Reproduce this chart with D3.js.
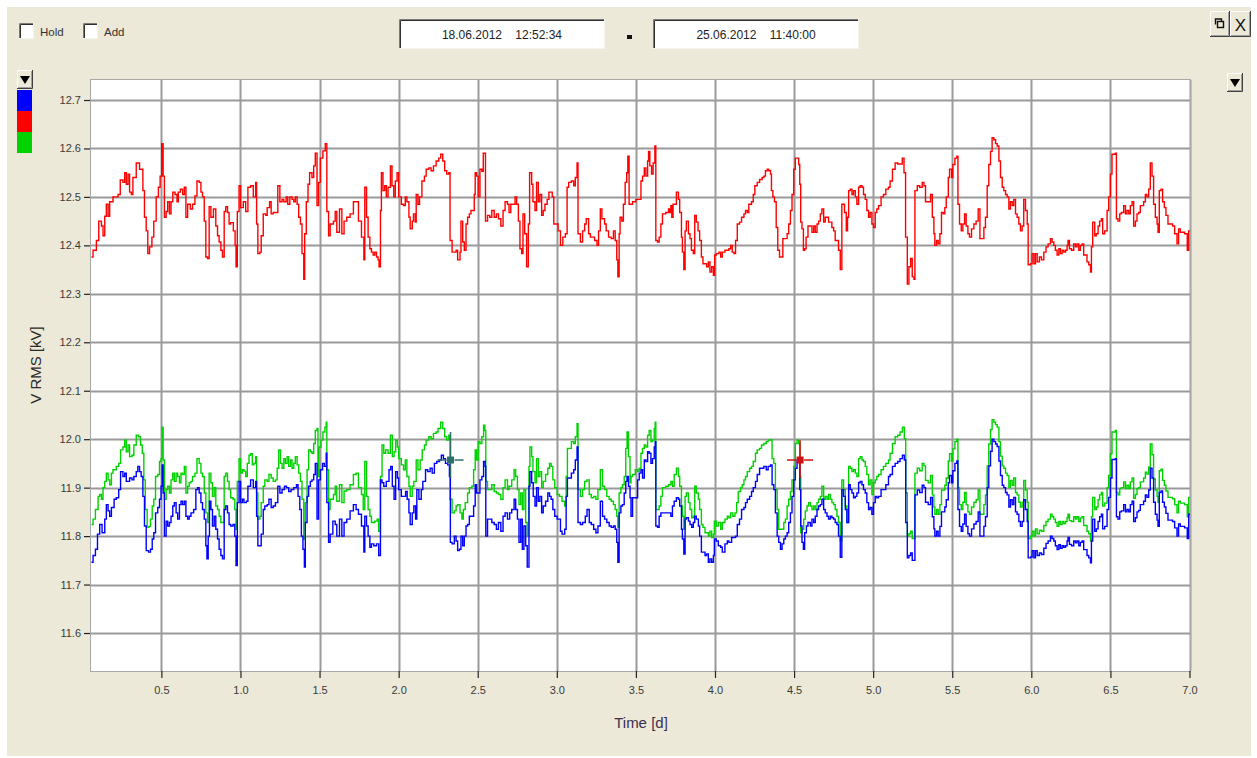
<!DOCTYPE html>
<html>
<head>
<meta charset="utf-8">
<script src="https://cdn.jsdelivr.net/npm/d3@7/dist/d3.min.js"></script>
<style>
  html, body { margin: 0; padding: 0; background: #ffffff; }
  svg { display: block; font-family: "Liberation Sans", Arial, sans-serif; }
</style>
</head>
<body>
<svg id="chart" width="1257" height="758"></svg>
<script>
// Measured RMS voltage per phase, [time in days, kV]
const phaseL1 = [ // blue
[0.058,11.746],[0.068,11.76],[0.083,11.773],[0.096,11.804],[0.110,11.824],[0.125,11.807],[0.142,11.835],[0.152,11.865],[0.163,11.852],[0.173,11.841],[0.184,11.859],[0.201,11.876],[0.215,11.879],[0.230,11.896],[0.242,11.933],[0.257,11.923],[0.268,11.93],[0.278,11.913],[0.299,11.92],[0.314,11.916],[0.326,11.923],[0.341,11.933],[0.351,11.944],[0.362,11.933],[0.372,11.923],[0.383,11.882],[0.393,11.821],[0.404,11.77],[0.419,11.767],[0.431,11.773],[0.442,11.794],[0.452,11.807],[0.463,11.848],[0.477,11.859],[0.488,11.876],[0.498,11.903],[0.505,11.947],[0.511,11.889],[0.519,11.80],[0.530,11.831],[0.540,11.821],[0.551,11.828],[0.561,11.841],[0.572,11.862],[0.582,11.869],[0.593,11.848],[0.603,11.835],[0.614,11.865],[0.624,11.872],[0.634,11.865],[0.645,11.872],[0.655,11.841],[0.666,11.835],[0.676,11.841],[0.687,11.848],[0.704,11.855],[0.718,11.896],[0.729,11.90],[0.739,11.889],[0.750,11.869],[0.760,11.855],[0.771,11.835],[0.781,11.78],[0.788,11.753],[0.796,11.80],[0.804,11.872],[0.813,11.855],[0.823,11.821],[0.834,11.841],[0.844,11.814],[0.855,11.794],[0.865,11.773],[0.876,11.76],[0.886,11.753],[0.897,11.855],[0.907,11.862],[0.918,11.848],[0.928,11.824],[0.938,11.821],[0.953,11.824],[0.964,11.80],[0.972,11.739],[0.980,11.869],[0.991,11.913],[1.001,11.869],[1.012,11.876],[1.022,11.869],[1.037,11.872],[1.047,11.903],[1.064,11.916],[1.081,11.90],[1.096,11.913],[1.102,11.841],[1.110,11.78],[1.123,11.78],[1.131,11.804],[1.144,11.855],[1.154,11.862],[1.169,11.865],[1.180,11.876],[1.194,11.859],[1.207,11.862],[1.221,11.869],[1.236,11.903],[1.249,11.889],[1.263,11.896],[1.278,11.903],[1.291,11.90],[1.305,11.892],[1.320,11.896],[1.337,11.90],[1.354,11.906],[1.364,11.882],[1.375,11.855],[1.385,11.80],[1.395,11.773],[1.404,11.736],[1.410,11.828],[1.421,11.882],[1.431,11.903],[1.442,11.913],[1.452,11.916],[1.463,11.927],[1.473,11.95],[1.484,11.835],[1.494,11.916],[1.505,11.937],[1.519,11.95],[1.530,11.944],[1.542,11.971],[1.546,11.869],[1.557,11.787],[1.567,11.804],[1.584,11.831],[1.599,11.824],[1.609,11.80],[1.626,11.835],[1.641,11.80],[1.655,11.828],[1.672,11.835],[1.693,11.852],[1.714,11.865],[1.731,11.855],[1.746,11.845],[1.765,11.821],[1.780,11.767],[1.786,11.841],[1.797,11.821],[1.807,11.80],[1.818,11.777],[1.828,11.784],[1.843,11.78],[1.860,11.784],[1.874,11.76],[1.885,11.916],[1.895,11.91],[1.906,11.903],[1.922,11.913],[1.939,11.937],[1.950,11.944],[1.960,11.903],[1.971,11.876],[1.981,11.933],[1.992,11.92],[2.000,11.896],[2.017,11.882],[2.044,11.892],[2.054,11.876],[2.065,11.848],[2.073,11.824],[2.086,11.848],[2.096,11.862],[2.107,11.835],[2.115,11.896],[2.128,11.876],[2.143,11.896],[2.153,11.913],[2.170,11.937],[2.184,11.933],[2.199,11.94],[2.212,11.93],[2.226,11.95],[2.241,11.954],[2.258,11.957],[2.270,11.967],[2.283,11.96],[2.296,11.95],[2.310,11.947],[2.321,11.923],[2.327,11.787],[2.338,11.784],[2.352,11.80],[2.363,11.79],[2.373,11.77],[2.384,11.773],[2.394,11.80],[2.405,11.78],[2.415,11.80],[2.426,11.821],[2.436,11.824],[2.447,11.841],[2.463,11.841],[2.474,11.862],[2.484,11.906],[2.493,11.889],[2.514,11.916],[2.526,11.923],[2.537,11.954],[2.547,11.944],[2.551,11.80],[2.562,11.835],[2.589,11.828],[2.604,11.824],[2.618,11.814],[2.631,11.828],[2.646,11.81],[2.660,11.841],[2.673,11.848],[2.688,11.835],[2.702,11.848],[2.715,11.855],[2.730,11.876],[2.740,11.855],[2.751,11.835],[2.761,11.787],[2.772,11.835],[2.782,11.773],[2.792,11.821],[2.803,11.78],[2.813,11.736],[2.824,11.903],[2.830,11.933],[2.841,11.91],[2.851,11.882],[2.862,11.862],[2.872,11.90],[2.883,11.872],[2.893,11.882],[2.904,11.848],[2.914,11.862],[2.929,11.872],[2.943,11.889],[2.954,11.882],[2.964,11.876],[2.975,11.855],[2.987,11.841],[3.002,11.835],[3.023,11.81],[3.033,11.804],[3.050,11.814],[3.059,11.882],[3.067,11.92],[3.092,11.93],[3.107,11.937],[3.117,11.957],[3.128,11.984],[3.134,11.828],[3.149,11.824],[3.163,11.828],[3.180,11.841],[3.191,11.855],[3.205,11.828],[3.218,11.824],[3.233,11.814],[3.247,11.807],[3.260,11.821],[3.275,11.872],[3.289,11.841],[3.302,11.835],[3.316,11.828],[3.331,11.821],[3.344,11.818],[3.358,11.821],[3.369,11.814],[3.379,11.787],[3.386,11.746],[3.394,11.848],[3.405,11.862],[3.415,11.865],[3.426,11.889],[3.436,11.913],[3.444,11.923],[3.453,11.903],[3.463,11.879],[3.469,11.841],[3.479,11.879],[3.496,11.879],[3.511,11.916],[3.521,11.93],[3.532,11.937],[3.542,11.92],[3.553,11.957],[3.563,11.954],[3.574,11.974],[3.584,11.971],[3.595,11.95],[3.605,11.96],[3.616,11.984],[3.622,11.995],[3.626,11.821],[3.637,11.818],[3.647,11.841],[3.658,11.848],[3.721,11.841],[3.731,11.862],[3.742,11.872],[3.756,11.879],[3.769,11.876],[3.777,11.862],[3.788,11.814],[3.794,11.794],[3.803,11.763],[3.811,11.835],[3.819,11.838],[3.832,11.831],[3.842,11.824],[3.853,11.818],[3.863,11.828],[3.872,11.841],[3.882,11.835],[3.895,11.821],[3.903,11.80],[3.914,11.767],[3.937,11.76],[3.947,11.763],[3.958,11.746],[3.968,11.753],[3.979,11.746],[3.990,11.76],[3.996,11.794],[4.008,11.79],[4.021,11.78],[4.036,11.777],[4.046,11.767],[4.063,11.784],[4.078,11.79],[4.088,11.787],[4.105,11.797],[4.130,11.80],[4.141,11.824],[4.155,11.835],[4.168,11.855],[4.183,11.859],[4.193,11.869],[4.204,11.876],[4.219,11.882],[4.231,11.892],[4.242,11.90],[4.256,11.913],[4.267,11.927],[4.282,11.94],[4.309,11.944],[4.324,11.937],[4.336,11.944],[4.351,11.947],[4.361,11.906],[4.372,11.896],[4.382,11.848],[4.393,11.80],[4.403,11.787],[4.414,11.773],[4.424,11.784],[4.435,11.794],[4.445,11.80],[4.456,11.807],[4.466,11.828],[4.477,11.848],[4.487,11.882],[4.498,11.916],[4.508,11.94],[4.519,11.957],[4.529,11.957],[4.536,11.896],[4.542,11.821],[4.550,11.787],[4.559,11.773],[4.567,11.807],[4.578,11.821],[4.588,11.828],[4.603,11.821],[4.613,11.835],[4.624,11.828],[4.634,11.841],[4.645,11.855],[4.655,11.862],[4.666,11.865],[4.676,11.876],[4.687,11.855],[4.697,11.848],[4.708,11.841],[4.718,11.835],[4.729,11.841],[4.739,11.838],[4.750,11.835],[4.760,11.828],[4.771,11.824],[4.781,11.80],[4.792,11.756],[4.802,11.896],[4.813,11.882],[4.824,11.855],[4.834,11.828],[4.845,11.906],[4.855,11.896],[4.866,11.889],[4.876,11.879],[4.887,11.882],[4.897,11.889],[4.908,11.91],[4.918,11.913],[4.929,11.906],[4.939,11.896],[4.950,11.889],[4.960,11.869],[4.971,11.855],[4.981,11.859],[4.992,11.845],[5.002,11.869],[5.013,11.882],[5.023,11.879],[5.034,11.882],[5.050,11.896],[5.080,11.906],[5.097,11.923],[5.107,11.927],[5.122,11.944],[5.139,11.95],[5.155,11.954],[5.170,11.96],[5.185,11.967],[5.197,11.957],[5.206,11.828],
[5.216,11.755],[5.226,11.76],[5.237,11.765],[5.247,11.75],[5.258,11.75],[5.264,11.885],[5.279,11.895],[5.294,11.89],[5.310,11.905],[5.321,11.90],[5.331,11.87],[5.348,11.865],[5.363,11.88],[5.374,11.84],[5.384,11.815],[5.390,11.80],[5.401,11.81],[5.411,11.80],[5.422,11.82],[5.432,11.85],[5.443,11.85],[5.453,11.86],[5.462,11.875],[5.475,11.91],[5.483,11.925],[5.496,11.91],[5.504,11.935],[5.517,11.95],[5.529,11.955],[5.536,11.855],[5.546,11.82],[5.557,11.81],[5.567,11.825],[5.578,11.845],[5.588,11.82],[5.599,11.805],[5.609,11.80],[5.622,11.815],[5.637,11.825],[5.651,11.83],[5.664,11.85],[5.675,11.80],[5.685,11.80],[5.700,11.82],[5.710,11.84],[5.721,11.90],[5.731,11.945],[5.742,11.975],[5.752,12.00],[5.763,11.995],[5.774,11.99],[5.784,11.985],[5.795,11.955],[5.805,11.925],[5.816,11.905],[5.826,11.90],[5.837,11.89],[5.847,11.885],[5.858,11.86],[5.868,11.875],[5.879,11.865],[5.889,11.88],[5.900,11.85],[5.910,11.845],[5.921,11.83],[5.931,11.82],[5.942,11.83],[5.952,11.875],[5.963,11.855],[5.974,11.83],[5.980,11.755],[5.995,11.757],[6.005,11.77],[6.016,11.755],[6.026,11.77],[6.037,11.76],[6.051,11.765],[6.064,11.762],[6.079,11.775],[6.093,11.785],[6.106,11.79],[6.121,11.80],[6.131,11.795],[6.142,11.79],[6.152,11.78],[6.163,11.772],[6.174,11.782],[6.184,11.775],[6.195,11.78],[6.205,11.777],[6.216,11.78],[6.226,11.79],[6.232,11.797],[6.241,11.783],[6.254,11.78],[6.268,11.79],[6.279,11.786],[6.289,11.79],[6.300,11.78],[6.310,11.787],[6.321,11.79],[6.331,11.772],[6.352,11.76],[6.363,11.755],[6.374,11.745],[6.380,11.79],[6.388,11.835],[6.401,11.81],[6.411,11.815],[6.422,11.83],[6.432,11.84],[6.443,11.845],[6.451,11.815],[6.464,11.82],[6.479,11.855],[6.489,11.88],[6.500,11.92],[6.510,11.958],[6.531,11.96],[6.538,11.84],[6.548,11.835],[6.559,11.85],[6.569,11.852],[6.584,11.865],[6.595,11.85],[6.605,11.855],[6.616,11.85],[6.626,11.865],[6.637,11.872],[6.647,11.83],[6.658,11.838],[6.668,11.85],[6.679,11.853],[6.689,11.865],[6.710,11.872],[6.721,11.885],[6.731,11.88],[6.742,11.895],[6.752,11.94],[6.763,11.92],[6.773,11.87],[6.784,11.845],[6.795,11.833],[6.801,11.82],[6.809,11.89],[6.820,11.893],[6.830,11.87],[6.841,11.86],[6.851,11.847],[6.864,11.833],[6.893,11.83],[6.906,11.817],[6.921,11.80],[6.931,11.825],[6.942,11.82],[6.969,11.817],[6.986,11.795],[6.995,11.845],[7.005,11.845]
];

const phaseL2 = [ // red
[0.058,12.376],[0.068,12.39],[0.089,12.41],[0.104,12.45],[0.121,12.44],[0.131,12.42],[0.142,12.46],[0.152,12.485],[0.163,12.46],[0.173,12.49],[0.194,12.50],[0.226,12.505],[0.240,12.535],[0.257,12.53],[0.268,12.55],[0.278,12.526],[0.289,12.547],[0.299,12.51],[0.310,12.505],[0.320,12.54],[0.341,12.57],[0.362,12.557],[0.383,12.513],[0.393,12.458],[0.404,12.43],[0.414,12.383],[0.425,12.397],[0.440,12.417],[0.452,12.45],[0.467,12.50],[0.481,12.52],[0.492,12.543],[0.502,12.61],[0.511,12.543],[0.519,12.458],[0.530,12.47],[0.540,12.49],[0.551,12.465],[0.561,12.49],[0.572,12.51],[0.586,12.505],[0.599,12.49],[0.607,12.51],[0.620,12.516],[0.634,12.505],[0.645,12.52],[0.655,12.458],[0.666,12.485],[0.683,12.475],[0.697,12.485],[0.712,12.502],[0.725,12.533],[0.739,12.53],[0.750,12.51],[0.760,12.50],[0.771,12.45],[0.781,12.376],[0.792,12.373],[0.802,12.48],[0.813,12.458],[0.829,12.475],[0.844,12.44],[0.855,12.42],[0.865,12.407],[0.876,12.39],[0.886,12.376],[0.897,12.47],[0.907,12.48],[0.918,12.468],[0.928,12.444],[0.938,12.447],[0.955,12.43],[0.966,12.40],[0.972,12.356],[0.980,12.47],[0.991,12.523],[1.001,12.478],[1.018,12.49],[1.033,12.47],[1.047,12.52],[1.064,12.523],[1.081,12.50],[1.096,12.53],[1.102,12.444],[1.110,12.383],[1.123,12.386],[1.131,12.42],[1.144,12.465],[1.159,12.462],[1.169,12.478],[1.184,12.49],[1.194,12.465],[1.207,12.468],[1.236,12.523],[1.249,12.49],[1.263,12.495],[1.274,12.49],[1.289,12.50],[1.299,12.485],[1.312,12.50],[1.326,12.495],[1.337,12.49],[1.347,12.50],[1.358,12.485],[1.368,12.458],[1.379,12.444],[1.389,12.383],[1.400,12.33],[1.406,12.424],[1.416,12.49],[1.427,12.526],[1.437,12.55],[1.452,12.54],[1.463,12.564],[1.473,12.59],[1.484,12.482],[1.494,12.53],[1.505,12.58],[1.521,12.595],[1.536,12.61],[1.546,12.47],[1.557,12.42],[1.567,12.444],[1.588,12.45],[1.599,12.47],[1.609,12.427],[1.626,12.475],[1.641,12.424],[1.655,12.45],[1.672,12.458],[1.693,12.465],[1.714,12.49],[1.731,12.49],[1.746,12.45],[1.765,12.417],[1.780,12.37],[1.786,12.52],[1.797,12.458],[1.807,12.417],[1.818,12.393],[1.828,12.386],[1.839,12.38],[1.849,12.386],[1.860,12.376],[1.870,12.37],[1.876,12.356],[1.885,12.472],[1.891,12.55],[1.901,12.513],[1.912,12.523],[1.922,12.50],[1.933,12.52],[1.948,12.564],[1.958,12.523],[1.969,12.50],[1.979,12.533],[1.990,12.55],[2.000,12.50],[2.017,12.485],[2.031,12.482],[2.042,12.50],[2.052,12.49],[2.065,12.458],[2.073,12.434],[2.086,12.45],[2.094,12.465],[2.105,12.448],[2.111,12.505],[2.122,12.485],[2.132,12.50],[2.147,12.533],[2.163,12.543],[2.174,12.557],[2.191,12.56],[2.205,12.554],[2.220,12.564],[2.237,12.574],[2.254,12.58],[2.266,12.588],[2.279,12.574],[2.291,12.554],[2.304,12.547],[2.317,12.55],[2.325,12.41],[2.338,12.386],[2.352,12.386],[2.363,12.39],[2.373,12.37],[2.388,12.386],[2.394,12.45],[2.405,12.407],[2.415,12.39],[2.426,12.444],[2.436,12.458],[2.447,12.465],[2.457,12.472],[2.478,12.505],[2.484,12.55],[2.493,12.543],[2.503,12.50],[2.514,12.557],[2.526,12.553],[2.535,12.59],[2.545,12.59],[2.549,12.45],[2.562,12.462],[2.576,12.458],[2.589,12.472],[2.604,12.458],[2.618,12.465],[2.631,12.455],[2.646,12.44],[2.660,12.472],[2.673,12.49],[2.688,12.485],[2.698,12.468],[2.709,12.485],[2.723,12.485],[2.736,12.50],[2.746,12.485],[2.757,12.45],[2.767,12.393],[2.778,12.383],[2.786,12.465],[2.797,12.424],[2.809,12.356],[2.820,12.444],[2.828,12.55],[2.841,12.526],[2.849,12.49],[2.862,12.472],[2.872,12.53],[2.883,12.49],[2.893,12.505],[2.904,12.462],[2.914,12.472],[2.925,12.485],[2.939,12.495],[2.950,12.51],[2.971,12.50],[2.981,12.444],[3.008,12.43],[3.023,12.40],[3.038,12.417],[3.054,12.424],[3.065,12.52],[3.075,12.53],[3.092,12.533],[3.107,12.523],[3.117,12.54],[3.128,12.57],[3.134,12.424],[3.149,12.407],[3.163,12.43],[3.176,12.444],[3.186,12.455],[3.201,12.424],[3.212,12.417],[3.239,12.41],[3.254,12.40],[3.264,12.43],[3.275,12.475],[3.285,12.455],[3.302,12.444],[3.312,12.43],[3.327,12.417],[3.344,12.414],[3.358,12.43],[3.369,12.41],[3.379,12.37],[3.386,12.335],[3.394,12.424],[3.400,12.458],[3.411,12.45],[3.421,12.485],[3.432,12.53],[3.442,12.55],[3.449,12.584],[3.457,12.485],[3.479,12.49],[3.500,12.495],[3.521,12.495],[3.532,12.533],[3.542,12.543],[3.553,12.56],[3.563,12.543],[3.574,12.574],[3.580,12.594],[3.588,12.564],[3.599,12.547],[3.609,12.57],[3.620,12.605],[3.626,12.41],[3.637,12.407],[3.647,12.417],[3.658,12.444],[3.668,12.465],[3.689,12.468],[3.706,12.475],[3.714,12.468],[3.721,12.482],[3.727,12.458],[3.735,12.485],[3.756,12.51],[3.769,12.495],[3.777,12.468],[3.788,12.417],[3.794,12.386],[3.803,12.35],[3.811,12.43],[3.819,12.45],[3.832,12.424],[3.842,12.414],[3.851,12.39],[3.863,12.383],[3.872,12.462],[3.882,12.448],[3.893,12.43],[3.903,12.41],[3.914,12.376],[3.924,12.362],[3.947,12.356],[3.958,12.366],[3.968,12.345],[3.979,12.356],[3.990,12.338],[3.998,12.38],[4.008,12.383],[4.025,12.386],[4.036,12.376],[4.046,12.386],[4.063,12.39],[4.088,12.393],[4.099,12.40],[4.109,12.386],[4.120,12.383],[4.130,12.41],[4.141,12.444],[4.155,12.448],[4.168,12.458],[4.183,12.465],[4.193,12.472],[4.204,12.468],[4.214,12.485],[4.231,12.49],[4.242,12.505],[4.252,12.523],[4.267,12.53],[4.282,12.536],[4.298,12.54],[4.309,12.543],[4.319,12.554],[4.330,12.557],[4.340,12.554],[4.351,12.547],[4.357,12.513],[4.366,12.50],[4.376,12.49],[4.387,12.437],[4.397,12.39],[4.408,12.376],[4.420,12.376],[4.429,12.414],[4.441,12.414],[4.456,12.424],[4.466,12.444],[4.477,12.472],[4.487,12.505],[4.498,12.557],[4.508,12.58],[4.519,12.58],[4.529,12.567],[4.536,12.526],[4.542,12.448],[4.550,12.434],[4.559,12.39],[4.567,12.393],[4.576,12.417],[4.588,12.44],[4.603,12.44],[4.613,12.427],[4.624,12.44],[4.634,12.427],[4.645,12.444],[4.655,12.45],[4.666,12.465],[4.676,12.475],[4.687,12.448],[4.697,12.458],[4.718,12.448],[4.739,12.437],[4.750,12.43],[4.760,12.41],[4.781,12.39],[4.792,12.35],[4.802,12.485],[4.819,12.468],[4.830,12.43],[4.838,12.458],[4.845,12.513],[4.855,12.516],[4.866,12.505],[4.876,12.513],[4.887,12.50],[4.897,12.485],[4.908,12.52],[4.918,12.523],[4.929,12.52],[4.939,12.505],[4.950,12.495],[4.960,12.472],[4.971,12.458],[4.981,12.468],[4.992,12.444],[5.002,12.437],[5.013,12.468],[5.023,12.475],[5.034,12.482],[5.050,12.50],[5.065,12.505],[5.080,12.516],[5.097,12.52],[5.107,12.533],[5.122,12.557],[5.139,12.57],[5.155,12.568],[5.184,12.58],[5.195,12.55],[5.205,12.417],[5.216,12.32],[5.226,12.356],[5.237,12.373],[5.247,12.335],[5.258,12.33],[5.264,12.513],[5.279,12.523],[5.294,12.52],[5.310,12.53],[5.321,12.523],[5.331,12.49],[5.348,12.49],[5.363,12.505],[5.374,12.458],[5.384,12.424],[5.390,12.40],[5.401,12.41],[5.411,12.403],[5.422,12.424],[5.432,12.468],[5.443,12.465],[5.453,12.478],[5.462,12.50],[5.475,12.54],[5.483,12.557],[5.496,12.54],[5.504,12.567],[5.517,12.58],[5.529,12.584],[5.536,12.485],[5.546,12.444],[5.557,12.43],[5.567,12.444],[5.578,12.465],[5.588,12.44],[5.599,12.424],[5.609,12.417],[5.622,12.434],[5.637,12.444],[5.651,12.45],[5.664,12.475],[5.675,12.414],[5.685,12.414],[5.700,12.437],[5.710,12.458],[5.721,12.523],[5.731,12.567],[5.742,12.594],[5.752,12.622],[5.763,12.618],[5.774,12.61],[5.784,12.605],[5.795,12.574],[5.805,12.54],[5.816,12.52],[5.826,12.513],[5.837,12.505],[5.847,12.50],[5.858,12.475],[5.868,12.49],[5.879,12.482],[5.889,12.495],[5.900,12.465],[5.910,12.458],[5.921,12.444],[5.931,12.43],[5.942,12.44],[5.952,12.495],[5.963,12.472],[5.974,12.444],[5.980,12.36],[5.995,12.362],[6.005,12.383],[6.016,12.362],[6.026,12.383],[6.037,12.366],[6.051,12.376],[6.064,12.37],[6.079,12.386],[6.093,12.397],[6.106,12.403],[6.121,12.414],[6.131,12.407],[6.142,12.40],[6.152,12.39],[6.163,12.38],[6.174,12.393],[6.184,12.383],[6.195,12.39],[6.205,12.386],[6.216,12.39],[6.226,12.40],[6.232,12.41],[6.241,12.393],[6.254,12.39],[6.268,12.403],[6.279,12.397],[6.289,12.403],[6.300,12.39],[6.310,12.40],[6.321,12.403],[6.331,12.38],[6.352,12.366],[6.363,12.36],[6.374,12.345],[6.380,12.397],[6.388,12.448],[6.401,12.42],[6.411,12.424],[6.422,12.44],[6.432,12.45],[6.443,12.455],[6.451,12.424],[6.464,12.43],[6.479,12.472],[6.489,12.50],[6.500,12.547],[6.510,12.588],[6.531,12.59],[6.538,12.455],[6.548,12.45],[6.559,12.465],[6.569,12.468],[6.584,12.482],[6.595,12.465],[6.605,12.472],[6.616,12.465],[6.626,12.482],[6.637,12.49],[6.647,12.44],[6.658,12.45],[6.668,12.465],[6.679,12.468],[6.689,12.482],[6.710,12.49],[6.721,12.505],[6.731,12.50],[6.742,12.516],[6.752,12.57],[6.763,12.543],[6.773,12.485],[6.784,12.458],[6.795,12.444],[6.801,12.427],[6.809,12.513],[6.820,12.516],[6.830,12.49],[6.841,12.478],[6.851,12.462],[6.864,12.444],[6.893,12.44],[6.906,12.424],[6.921,12.403],[6.931,12.434],[6.942,12.427],[6.969,12.424],[6.986,12.39],[6.995,12.43],[7.005,12.43]
];

const phaseL3 = [ // green
[0.058,11.824],[0.068,11.835],[0.083,11.855],[0.100,11.882],[0.110,11.886],[0.121,11.876],[0.131,11.90],[0.142,11.913],[0.152,11.93],[0.163,11.916],[0.173,11.906],[0.184,11.93],[0.194,11.937],[0.215,11.944],[0.230,11.95],[0.242,11.978],[0.257,11.984],[0.268,11.998],[0.278,11.974],[0.289,11.988],[0.299,11.964],[0.314,11.967],[0.326,11.988],[0.341,12.008],[0.356,12.005],[0.368,11.988],[0.379,11.971],[0.389,11.916],[0.398,11.855],[0.410,11.818],[0.421,11.82],[0.431,11.835],[0.442,11.862],[0.452,11.876],[0.463,11.923],[0.477,11.927],[0.488,11.954],[0.498,11.96],[0.505,12.025],[0.511,11.957],[0.519,11.876],[0.530,11.896],[0.540,11.903],[0.551,11.889],[0.561,11.916],[0.572,11.93],[0.582,11.913],[0.593,11.93],[0.603,11.923],[0.614,11.91],[0.624,11.93],[0.634,11.927],[0.645,11.944],[0.655,11.889],[0.666,11.903],[0.676,11.91],[0.687,11.913],[0.697,11.923],[0.712,11.93],[0.725,11.96],[0.739,11.95],[0.750,11.93],[0.760,11.923],[0.771,11.889],[0.781,11.848],[0.792,11.828],[0.802,11.93],[0.813,11.91],[0.823,11.882],[0.834,11.90],[0.844,11.862],[0.855,11.855],[0.865,11.841],[0.876,11.828],[0.886,11.828],[0.897,11.923],[0.907,11.93],[0.918,11.913],[0.928,11.896],[0.938,11.879],[0.953,11.876],[0.964,11.855],[0.972,11.814],[0.980,11.913],[0.991,11.96],[1.001,11.93],[1.012,11.937],[1.022,11.934],[1.033,11.923],[1.043,11.95],[1.054,11.967],[1.064,11.97],[1.075,11.947],[1.085,11.95],[1.096,11.964],[1.102,11.889],[1.110,11.835],[1.123,11.841],[1.131,11.869],[1.144,11.903],[1.154,11.916],[1.169,11.913],[1.180,11.927],[1.194,11.92],[1.207,11.913],[1.221,11.916],[1.232,11.94],[1.242,11.978],[1.253,11.95],[1.263,11.94],[1.274,11.96],[1.284,11.95],[1.295,11.964],[1.305,11.944],[1.316,11.957],[1.326,11.94],[1.337,11.95],[1.347,11.964],[1.358,11.947],[1.368,11.93],[1.379,11.913],[1.389,11.876],[1.400,11.794],[1.410,11.869],[1.421,11.937],[1.431,11.978],[1.442,11.974],[1.452,11.971],[1.463,11.991],[1.473,12.018],[1.484,12.022],[1.490,11.923],[1.496,11.984],[1.509,11.998],[1.521,12.015],[1.534,12.025],[1.542,12.035],[1.546,11.937],[1.557,11.855],[1.567,11.876],[1.588,11.886],[1.599,11.903],[1.609,11.872],[1.626,11.906],[1.641,11.869],[1.655,11.893],[1.672,11.896],[1.693,11.906],[1.714,11.927],[1.731,11.93],[1.746,11.90],[1.765,11.886],[1.776,11.855],[1.786,11.954],[1.797,11.882],[1.807,11.855],[1.818,11.841],[1.828,11.828],[1.849,11.831],[1.864,11.835],[1.874,11.81],[1.885,11.923],[1.895,11.988],[1.906,11.971],[1.918,11.978],[1.933,11.971],[1.948,12.008],[1.960,11.964],[1.971,11.974],[1.981,11.998],[1.992,11.984],[2.000,11.96],[2.017,11.947],[2.031,11.937],[2.042,11.957],[2.052,11.923],[2.065,11.903],[2.073,11.882],[2.086,11.903],[2.096,11.913],[2.111,11.957],[2.122,11.937],[2.136,11.957],[2.149,11.978],[2.163,11.988],[2.174,11.998],[2.191,12.005],[2.205,12.001],[2.220,12.012],[2.237,12.015],[2.249,12.022],[2.266,12.035],[2.279,12.022],[2.291,12.005],[2.304,11.998],[2.317,12.008],[2.325,11.876],[2.338,11.848],[2.352,11.852],[2.363,11.862],[2.373,11.865],[2.388,11.848],[2.400,11.835],[2.409,11.855],[2.421,11.869],[2.436,11.889],[2.447,11.90],[2.463,11.903],[2.474,11.937],[2.484,11.978],[2.493,11.957],[2.503,11.995],[2.514,11.991],[2.526,12.005],[2.537,12.029],[2.545,12.018],[2.551,11.913],[2.562,11.896],[2.589,11.906],[2.604,11.892],[2.618,11.889],[2.631,11.886],[2.646,11.876],[2.660,11.90],[2.673,11.916],[2.688,11.896],[2.698,11.903],[2.715,11.916],[2.730,11.937],[2.740,11.923],[2.751,11.896],[2.761,11.865],[2.772,11.889],[2.782,11.855],[2.792,11.896],[2.803,11.828],[2.813,11.80],[2.824,11.944],[2.830,11.984],[2.841,11.964],[2.849,11.933],[2.862,11.91],[2.872,11.96],[2.883,11.923],[2.893,11.933],[2.904,11.90],[2.914,11.913],[2.929,11.927],[2.943,11.94],[2.954,11.95],[2.964,11.944],[2.975,11.916],[2.987,11.90],[3.002,11.886],[3.017,11.882],[3.033,11.872],[3.050,11.862],[3.059,11.923],[3.067,11.981],[3.092,11.995],[3.107,11.991],[3.117,12.005],[3.128,12.032],[3.134,11.896],[3.149,11.882],[3.163,11.896],[3.176,11.913],[3.191,11.916],[3.205,11.886],[3.218,11.879],[3.233,11.882],[3.247,11.876],[3.260,11.896],[3.275,11.937],[3.289,11.903],[3.302,11.896],[3.316,11.882],[3.331,11.876],[3.344,11.872],[3.358,11.865],[3.369,11.855],[3.379,11.841],[3.386,11.818],[3.394,11.889],[3.405,11.90],[3.415,11.906],[3.426,11.923],[3.436,11.981],[3.444,12.015],[3.453,11.964],[3.463,11.91],[3.469,11.923],[3.479,11.927],[3.496,11.937],[3.511,11.933],[3.521,11.94],[3.532,11.971],[3.542,11.981],[3.553,11.988],[3.563,11.984],[3.574,12.008],[3.584,12.018],[3.595,11.995],[3.605,11.998],[3.616,12.022],[3.622,12.035],[3.626,11.855],[3.647,11.862],[3.658,11.882],[3.668,11.90],[3.689,11.903],[3.706,11.906],[3.721,11.913],[3.731,11.903],[3.742,11.927],[3.756,11.94],[3.769,11.923],[3.777,11.903],[3.788,11.862],[3.794,11.841],[3.803,11.814],[3.811,11.882],[3.819,11.889],[3.832,11.869],[3.842,11.855],[3.853,11.838],[3.863,11.841],[3.872,11.903],[3.882,11.889],[3.895,11.876],[3.903,11.855],[3.914,11.824],[3.924,11.818],[3.937,11.807],[3.958,11.80],[3.968,11.81],[3.979,11.797],[3.990,11.804],[3.996,11.831],[4.008,11.821],[4.021,11.828],[4.036,11.814],[4.046,11.828],[4.063,11.835],[4.078,11.841],[4.088,11.838],[4.099,11.848],[4.113,11.841],[4.126,11.848],[4.137,11.869],[4.147,11.892],[4.162,11.90],[4.172,11.906],[4.183,11.916],[4.193,11.923],[4.204,11.933],[4.219,11.94],[4.231,11.944],[4.242,11.954],[4.256,11.971],[4.267,11.978],[4.282,11.981],[4.294,11.988],[4.309,11.991],[4.324,11.995],[4.336,11.998],[4.351,11.999],[4.361,11.96],[4.372,11.95],[4.382,11.896],[4.393,11.855],[4.403,11.814],[4.420,11.814],[4.435,11.828],[4.445,11.835],[4.456,11.862],[4.466,11.876],[4.477,11.892],[4.487,11.916],[4.498,11.944],[4.508,11.991],[4.519,11.998],[4.529,11.991],[4.536,11.923],[4.542,11.807],[4.550,11.814],[4.561,11.835],[4.571,11.852],[4.582,11.862],[4.592,11.869],[4.603,11.862],[4.613,11.855],[4.624,11.862],[4.634,11.855],[4.645,11.869],[4.655,11.876],[4.666,11.882],[4.676,11.903],[4.687,11.876],[4.697,11.882],[4.708,11.876],[4.718,11.886],[4.729,11.876],[4.739,11.869],[4.750,11.865],[4.760,11.855],[4.771,11.841],[4.781,11.828],[4.792,11.79],[4.802,11.916],[4.813,11.896],[4.824,11.862],[4.834,11.828],[4.845,11.944],[4.855,11.94],[4.866,11.933],[4.876,11.937],[4.887,11.93],[4.897,11.923],[4.908,11.96],[4.918,11.964],[4.929,11.957],[4.939,11.954],[4.950,11.944],[4.960,11.927],[4.971,11.906],[4.981,11.916],[4.992,11.886],[5.002,11.91],[5.013,11.916],[5.023,11.923],[5.034,11.927],[5.050,11.937],[5.065,11.944],[5.080,11.95],[5.097,11.957],[5.107,11.971],[5.122,11.991],[5.139,12.005],[5.155,12.008],[5.170,12.015],[5.185,12.025],[5.197,12.001],[5.206,11.889],
[5.216,11.80],[5.226,11.805],[5.237,11.81],[5.247,11.795],[5.258,11.795],[5.264,11.93],[5.279,11.94],[5.294,11.935],[5.310,11.95],[5.321,11.945],[5.331,11.915],[5.348,11.91],[5.363,11.925],[5.374,11.885],[5.384,11.86],[5.390,11.845],[5.401,11.855],[5.411,11.845],[5.422,11.865],[5.432,11.895],[5.443,11.895],[5.453,11.905],[5.462,11.92],[5.475,11.955],[5.483,11.97],[5.496,11.955],[5.504,11.98],[5.517,11.995],[5.529,12.0],[5.536,11.90],[5.546,11.865],[5.557,11.855],[5.567,11.87],[5.578,11.89],[5.588,11.865],[5.599,11.85],[5.609,11.845],[5.622,11.86],[5.637,11.87],[5.651,11.875],[5.664,11.895],[5.675,11.845],[5.685,11.845],[5.700,11.865],[5.710,11.885],[5.721,11.945],[5.731,11.99],[5.742,12.02],[5.752,12.04],[5.763,12.035],[5.774,12.03],[5.784,12.025],[5.795,11.995],[5.805,11.965],[5.816,11.945],[5.826,11.94],[5.837,11.93],[5.847,11.925],[5.858,11.90],[5.868,11.915],[5.879,11.905],[5.889,11.92],[5.900,11.89],[5.910,11.885],[5.921,11.87],[5.931,11.86],[5.942,11.87],[5.952,11.915],[5.963,11.895],[5.974,11.87],[5.980,11.795],[5.995,11.80],[6.005,11.81],[6.016,11.80],[6.026,11.815],[6.037,11.805],[6.051,11.812],[6.064,11.81],[6.079,11.822],[6.093,11.83],[6.106,11.835],[6.121,11.845],[6.131,11.84],[6.142,11.835],[6.152,11.828],[6.163,11.82],[6.174,11.83],[6.184,11.824],[6.195,11.83],[6.205,11.826],[6.216,11.83],[6.226,11.838],[6.232,11.845],[6.241,11.832],[6.254,11.83],[6.268,11.84],[6.279,11.835],[6.289,11.84],[6.300,11.83],[6.310,11.837],[6.321,11.84],[6.331,11.822],[6.352,11.81],[6.363,11.805],[6.374,11.79],[6.380,11.84],[6.388,11.88],[6.401,11.855],[6.411,11.86],[6.422,11.875],[6.432,11.885],[6.443,11.89],[6.451,11.862],[6.464,11.868],[6.479,11.90],[6.489,11.925],[6.500,11.97],[6.510,12.015],[6.531,12.018],[6.538,11.89],[6.548,11.885],[6.559,11.898],[6.569,11.90],[6.584,11.912],[6.595,11.898],[6.605,11.905],[6.616,11.898],[6.626,11.912],[6.637,11.92],[6.647,11.878],[6.658,11.886],[6.668,11.898],[6.679,11.90],[6.689,11.912],[6.710,11.92],[6.721,11.932],[6.731,11.928],[6.742,11.942],[6.752,11.99],[6.763,11.968],[6.773,11.918],[6.784,11.895],[6.795,11.882],[6.801,11.87],[6.809,11.935],[6.820,11.938],[6.830,11.915],[6.841,11.905],[6.851,11.893],[6.864,11.88],[6.893,11.877],[6.906,11.865],[6.921,11.848],[6.931,11.872],[6.942,11.868],[6.969,11.865],[6.986,11.84],[6.995,11.88],[7.005,11.88]
];

// Axis ticks
const yTicks = [11.6, 11.7, 11.8, 11.9, 12.0, 12.1, 12.2, 12.3, 12.4, 12.5, 12.6, 12.7];
const xTicks = [0.5, 1.0, 1.5, 2.0, 2.5, 3.0, 3.5, 4.0, 4.5, 5.0, 5.5, 6.0, 6.5, 7.0];

// Cursor markers: time, value, vertical span
const cursors = [
  { t: 2.328, v: 11.957, lo: 11.92, hi: 12.015, color: "#2f6f6a" },
  { t: 4.538, v: 11.957, lo: 11.92, hi: 11.998, color: "#d01010" }
];

const seriesColors = ["#0000ff", "#ff0000", "#00d200"];
const dateFrom = "18.06.2012    12:52:34";
const dateTo = "25.06.2012    11:40:00";

const svg = d3.select("#chart");
const W = 1257, H = 758;
const panel = "#ece9d8";

// window panel
svg.append("rect").attr("x", 0).attr("y", 0).attr("width", W).attr("height", H).attr("fill", "#ffffff");
svg.append("rect").attr("x", 7).attr("y", 7).attr("width", 1244).attr("height", 749).attr("fill", panel);

const plot = { left: 91, right: 1190, top: 80, bottom: 671 };
const x = d3.scaleLinear().domain([0.055, 7.0]).range([plot.left, plot.right - 0.5]);
const y = d3.scaleLinear().domain([11.5216, 12.7413]).range([plot.bottom, plot.top]);

// plot background
svg.append("rect").attr("x", plot.left).attr("y", plot.top)
  .attr("width", plot.right - plot.left).attr("height", plot.bottom - plot.top)
  .attr("fill", "#ffffff");

// grid
const grid = svg.append("g");
grid.selectAll("line.h").data(yTicks).enter().append("line")
  .attr("x1", plot.left).attr("x2", plot.right)
  .attr("y1", d => Math.round(y(d)) + 0.5).attr("y2", d => Math.round(y(d)) + 0.5)
  .attr("stroke", "#9a9a9a").attr("stroke-width", 2);
grid.selectAll("line.v").data(xTicks).enter().append("line")
  .attr("y1", plot.top).attr("y2", plot.bottom)
  .attr("x1", d => Math.round(x(d)) + 0.5).attr("x2", d => Math.round(x(d)) + 0.5)
  .attr("stroke", "#9a9a9a").attr("stroke-width", 2);

// frame
svg.append("rect").attr("x", plot.left - 0.5).attr("y", plot.top - 0.5)
  .attr("width", plot.right - plot.left + 1).attr("height", plot.bottom - plot.top + 1)
  .attr("fill", "none").attr("stroke", "#a8a8a8").attr("stroke-width", 1);

// y axis
const yAxis = d3.axisLeft(y).tickValues(yTicks).tickFormat(d3.format(".1f")).tickSize(6).tickPadding(3);
const gy = svg.append("g").attr("transform", `translate(${plot.left - 1},0)`).call(yAxis);
gy.select(".domain").remove();
gy.selectAll(".tick line").attr("stroke", "#222").attr("stroke-width", 1.2);
gy.selectAll(".tick text").attr("fill", "#3a3a3a").attr("font-size", 11)
  .attr("font-family", "'Liberation Sans', Arial, sans-serif");

// x axis
const xAxis = d3.axisBottom(x).tickValues(xTicks).tickFormat(d3.format(".1f")).tickSize(7).tickPadding(8);
const gx = svg.append("g").attr("transform", `translate(0,${plot.bottom})`).call(xAxis);
gx.select(".domain").remove();
gx.selectAll(".tick line").attr("stroke", "#222").attr("stroke-width", 1.2);
gx.selectAll(".tick text").attr("fill", "#3a3a3a").attr("font-size", 11)
  .attr("font-family", "'Liberation Sans', Arial, sans-serif");

// axis titles
svg.append("text").attr("x", 641).attr("y", 728).attr("text-anchor", "middle")
  .attr("font-size", 15).attr("fill", "#3a3050").text("Time [d]");
svg.append("text").attr("transform", "translate(41,365) rotate(-90)").attr("text-anchor", "middle")
  .attr("font-size", 15).attr("fill", "#2a2a2a").text("V RMS [kV]");

// series
svg.append("clipPath").attr("id", "plotClip").append("rect")
  .attr("x", plot.left).attr("y", plot.top).attr("width", plot.right - plot.left).attr("height", plot.bottom - plot.top);
const line = d3.line().x(d => x(d[0])).y(d => y(d[1])).curve(d3.curveStepAfter);
const lines = svg.append("g").attr("clip-path", "url(#plotClip)");
[[phaseL2, seriesColors[1]], [phaseL3, seriesColors[2]], [phaseL1, seriesColors[0]]].forEach(([s, col]) => {
  lines.append("path").datum(s).attr("d", line)
    .attr("fill", "none").attr("stroke", col).attr("stroke-width", 1.4)
    .attr("stroke-linejoin", "miter");
});

// cursor markers
const cg = svg.append("g");
cursors.forEach(c => {
  const cx = x(c.t), cy = y(c.v);
  cg.append("line").attr("x1", cx).attr("x2", cx).attr("y1", y(c.hi)).attr("y2", y(c.lo))
    .attr("stroke", c.color).attr("stroke-width", 1.5);
  cg.append("line").attr("x1", cx - 13).attr("x2", cx - 4).attr("y1", cy).attr("y2", cy)
    .attr("stroke", c.color).attr("stroke-width", 1.5);
  cg.append("line").attr("x1", cx + 4).attr("x2", cx + 13).attr("y1", cy).attr("y2", cy)
    .attr("stroke", c.color).attr("stroke-width", 1.5);
  cg.append("rect").attr("x", cx - 3.5).attr("y", cy - 3.5).attr("width", 7).attr("height", 7)
    .attr("fill", c.color);
});

// sunken box helper
function sunken(g, bx, by, bw, bh) {
  g.append("rect").attr("x", bx).attr("y", by).attr("width", bw).attr("height", bh).attr("fill", "#ffffff");
  g.append("path").attr("d", `M${bx + 0.5},${by + bh}V${by + 0.5}H${bx + bw}`)
    .attr("stroke", "#7a7a7a").attr("fill", "none");
  g.append("path").attr("d", `M${bx + 1.5},${by + bh - 1}V${by + 1.5}H${bx + bw - 1}`)
    .attr("stroke", "#303030").attr("fill", "none");
  g.append("path").attr("d", `M${bx},${by + bh - 0.5}H${bx + bw - 0.5}V${by}`)
    .attr("stroke", "#f6f4ee").attr("fill", "none");
}

// checkboxes
const ui = svg.append("g");
sunken(ui, 19, 23, 15, 16);
sunken(ui, 83, 23, 15, 16);
ui.append("text").attr("x", 40).attr("y", 36).attr("font-size", 11.5).attr("fill", "#333").text("Hold");
ui.append("text").attr("x", 104).attr("y", 36).attr("font-size", 11.5).attr("fill", "#333").text("Add");

// date range fields
sunken(ui, 399, 19, 206, 30);
sunken(ui, 653, 19, 206, 30);
ui.append("text").attr("x", 502).attr("y", 39).attr("text-anchor", "middle").attr("font-size", 12)
  .attr("fill", "#222").attr("xml:space", "preserve").style("white-space", "pre").text(dateFrom);
ui.append("text").attr("x", 756).attr("y", 39).attr("text-anchor", "middle").attr("font-size", 12)
  .attr("fill", "#222").attr("xml:space", "preserve").style("white-space", "pre").text(dateTo);
ui.append("rect").attr("x", 627).attr("y", 35).attr("width", 5).attr("height", 4).attr("fill", "#111");

// raised button helper
function raised(g, bx, by, bw, bh) {
  g.append("rect").attr("x", bx).attr("y", by).attr("width", bw).attr("height", bh).attr("fill", panel);
  g.append("path").attr("d", `M${bx + 0.5},${by + bh}V${by + 0.5}H${bx + bw}`).attr("stroke", "#ffffff").attr("fill", "none");
  g.append("path").attr("d", `M${bx},${by + bh - 0.5}H${bx + bw - 0.5}V${by}`).attr("stroke", "#404040").attr("fill", "none");
  g.append("path").attr("d", `M${bx + 1},${by + bh - 1.5}H${bx + bw - 1.5}V${by + 1}`).attr("stroke", "#a0a0a0").attr("fill", "none");
}

// dropdown triangles
function dropBtn(bx, by) {
  raised(ui, bx, by, 16, 19);
  ui.append("path").attr("d", `M${bx + 3},${by + 6}H${bx + 13}L${bx + 8},${by + 14}Z`).attr("fill", "#000");
}
dropBtn(17, 70);
dropBtn(1227, 73);

// series colour swatches
seriesColors.forEach((c, i) => {
  ui.append("rect").attr("x", 17).attr("y", 90 + i * 21).attr("width", 15).attr("height", 21).attr("fill", c);
});

// window buttons
raised(ui, 1210, 11, 20, 26);
raised(ui, 1230, 11, 21, 26);
ui.append("text").attr("x", 1240.5).attr("y", 31).attr("text-anchor", "middle").attr("font-size", 17).attr("fill", "#111").text("X");
ui.append("rect").attr("x", 1217.5).attr("y", 21.5).attr("width", 6).attr("height", 6).attr("fill", "none").attr("stroke", "#111").attr("stroke-width", 1.4);
ui.append("path").attr("d", "M1215.5,24.5V19H1221.5V21").attr("fill", "none").attr("stroke", "#111").attr("stroke-width", 1.4);
</script>
</body>
</html>
